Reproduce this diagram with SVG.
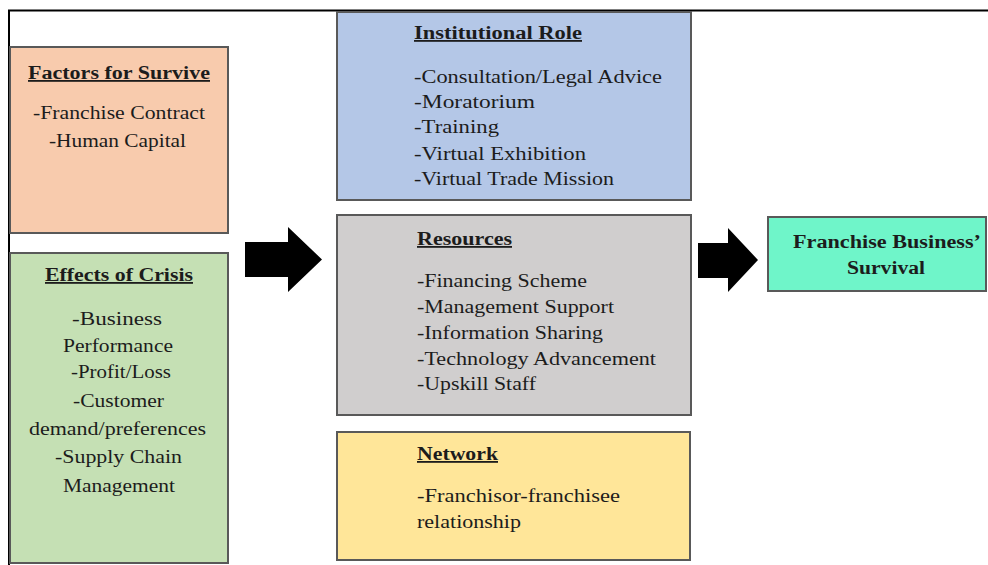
<svg xmlns="http://www.w3.org/2000/svg" width="988" height="565" viewBox="0 0 988 565">
<style>
.box{stroke:#595959;stroke-width:2}
text{font-family:"Liberation Serif","Times New Roman",serif;font-size:18px;fill:#1c1c1c}
.h{font-weight:bold;text-decoration:underline}
.b{font-weight:bold}
.arrow{fill:#000}
</style>
<rect x="0" y="0" width="988" height="565" fill="#fff"/>
<g id="frame">
<line x1="8" y1="10.5" x2="988" y2="10.5" stroke="#000" stroke-width="2"/>
<line x1="9" y1="10" x2="9" y2="565" stroke="#000" stroke-width="2"/>
</g>
<g id="factors">
<rect class="box" x="10" y="47" width="218" height="186" fill="#f8cbad"/>
<text class="h" x="28" y="79" textLength="182" lengthAdjust="spacingAndGlyphs">Factors for Survive</text>
<text x="33" y="119" textLength="172" lengthAdjust="spacingAndGlyphs">-Franchise Contract</text>
<text x="49" y="147" textLength="137" lengthAdjust="spacingAndGlyphs">-Human Capital</text>
</g>
<g id="effects">
<rect class="box" x="10" y="253" width="218" height="310" fill="#c5e0b4"/>
<text class="h" x="45" y="281" textLength="148" lengthAdjust="spacingAndGlyphs">Effects of Crisis</text>
<text x="72" y="325" textLength="90" lengthAdjust="spacingAndGlyphs">-Business</text>
<text x="63" y="352" textLength="110" lengthAdjust="spacingAndGlyphs">Performance</text>
<text x="71" y="378" textLength="100" lengthAdjust="spacingAndGlyphs">-Profit/Loss</text>
<text x="73" y="407" textLength="91" lengthAdjust="spacingAndGlyphs">-Customer</text>
<text x="29" y="435" textLength="177" lengthAdjust="spacingAndGlyphs">demand/preferences</text>
<text x="55" y="463" textLength="127" lengthAdjust="spacingAndGlyphs">-Supply Chain</text>
<text x="63" y="492" textLength="112" lengthAdjust="spacingAndGlyphs">Management</text>
</g>
<g id="institutional">
<rect class="box" x="337" y="12" width="354" height="188" fill="#b4c7e7"/>
<text class="h" x="414" y="39" textLength="168" lengthAdjust="spacingAndGlyphs">Institutional Role</text>
<text x="414" y="83" textLength="248" lengthAdjust="spacingAndGlyphs">-Consultation/Legal Advice</text>
<text x="414" y="108" textLength="121" lengthAdjust="spacingAndGlyphs">-Moratorium</text>
<text x="414" y="133" textLength="85" lengthAdjust="spacingAndGlyphs">-Training</text>
<text x="414" y="160" textLength="172" lengthAdjust="spacingAndGlyphs">-Virtual Exhibition</text>
<text x="414" y="185" textLength="200" lengthAdjust="spacingAndGlyphs">-Virtual Trade Mission</text>
</g>
<g id="resources">
<rect class="box" x="337" y="215" width="354" height="200" fill="#d0cece"/>
<text class="h" x="417" y="245" textLength="95" lengthAdjust="spacingAndGlyphs">Resources</text>
<text x="417" y="287" textLength="170" lengthAdjust="spacingAndGlyphs">-Financing Scheme</text>
<text x="417" y="313" textLength="197" lengthAdjust="spacingAndGlyphs">-Management Support</text>
<text x="417" y="339" textLength="186" lengthAdjust="spacingAndGlyphs">-Information Sharing</text>
<text x="417" y="365" textLength="239" lengthAdjust="spacingAndGlyphs">-Technology Advancement</text>
<text x="417" y="390" textLength="119" lengthAdjust="spacingAndGlyphs">-Upskill Staff</text>
</g>
<g id="network">
<rect class="box" x="337" y="432" width="353" height="128" fill="#ffe699"/>
<text class="h" x="417" y="460" textLength="81" lengthAdjust="spacingAndGlyphs">Network</text>
<text x="417" y="502" textLength="203" lengthAdjust="spacingAndGlyphs">-Franchisor-franchisee</text>
<text x="417" y="528" textLength="104" lengthAdjust="spacingAndGlyphs">relationship</text>
</g>
<g id="survival">
<rect class="box" x="768" y="217" width="218" height="74" fill="#6ff5c9"/>
<text class="b" x="793" y="248" textLength="188" lengthAdjust="spacingAndGlyphs">Franchise Business’</text>
<text class="b" x="847" y="274" textLength="78" lengthAdjust="spacingAndGlyphs">Survival</text>
</g>
<g id="connectors">
<polygon class="arrow" points="245,242 288,242 288,227 322,259.5 288,292 288,277 245,277"/>
<polygon class="arrow" points="698,243 728,243 728,228 758,260 728,292 728,278 698,278"/>
</g>
</svg>
